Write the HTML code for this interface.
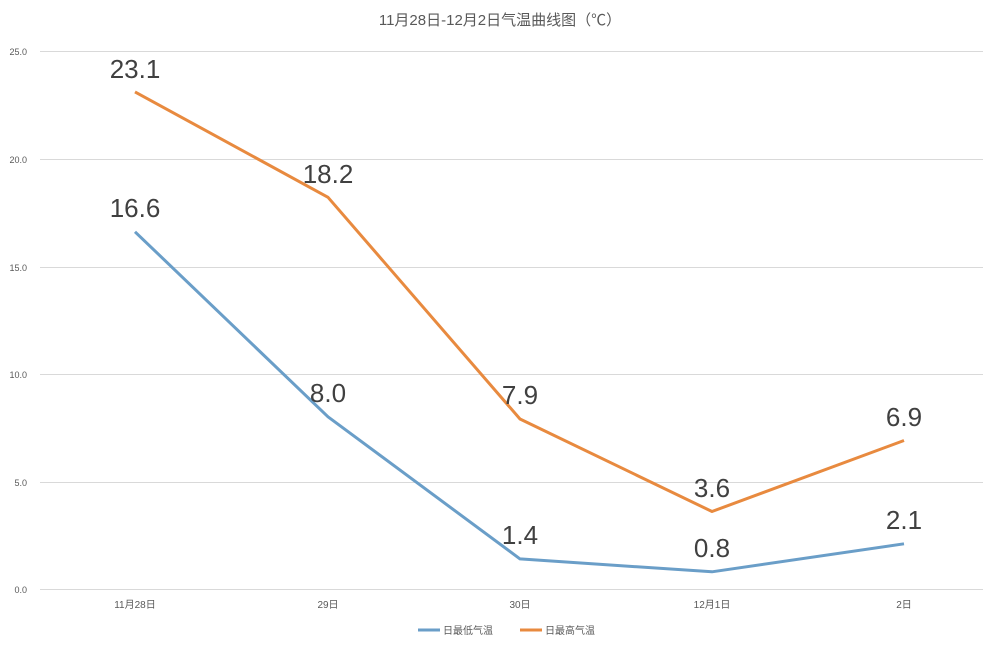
<!DOCTYPE html>
<html><head><meta charset="utf-8"><style>
html,body{margin:0;padding:0;background:#fff;}
svg{display:block;font-family:"Liberation Sans","Noto Sans CJK SC",sans-serif;}
</style></head><body>
<svg width="983" height="649" viewBox="0 0 983 649">
<text x="500" y="25" font-size="15" fill="#595959" text-anchor="middle">11月28日-12月2日气温曲线图（℃）</text>
<g stroke="#d9d9d9" stroke-width="1">
<line x1="40" y1="51.5" x2="983" y2="51.5"/>
<line x1="40" y1="159.5" x2="983" y2="159.5"/>
<line x1="40" y1="267.5" x2="983" y2="267.5"/>
<line x1="40" y1="374.5" x2="983" y2="374.5"/>
<line x1="40" y1="482.5" x2="983" y2="482.5"/>
<line x1="40" y1="589.5" x2="983" y2="589.5"/>
</g>
<g font-size="9" fill="#595959" text-anchor="end">
<text x="27" y="55">25.0</text>
<text x="27" y="163">20.0</text>
<text x="27" y="271">15.0</text>
<text x="27" y="378">10.0</text>
<text x="27" y="486">5.0</text>
<text x="27" y="593">0.0</text>
</g>
<g font-size="10" fill="#595959" text-anchor="middle">
<text x="135" y="608">11月28日</text>
<text x="328" y="608">29日</text>
<text x="520" y="608">30日</text>
<text x="712" y="608">12月1日</text>
<text x="904" y="608">2日</text>
</g>
<polyline fill="none" stroke="#6a9ec8" stroke-width="3" stroke-linejoin="round" points="135,231.8 328,416.8 520,558.9 712,571.8 904,543.8"/>
<polyline fill="none" stroke="#e88a3f" stroke-width="3" stroke-linejoin="round" points="135,91.9 328,197.3 520,419 712,511.5 904,440.5"/>
<g font-size="26" fill="#404040" text-anchor="middle">
<text x="135" y="78">23.1</text>
<text x="328" y="183">18.2</text>
<text x="520" y="404">7.9</text>
<text x="712" y="497">3.6</text>
<text x="904" y="426">6.9</text>
<text x="135" y="217">16.6</text>
<text x="328" y="402">8.0</text>
<text x="520" y="544">1.4</text>
<text x="712" y="557">0.8</text>
<text x="904" y="529">2.1</text>
</g>
<line x1="418" y1="630" x2="440" y2="630" stroke="#6a9ec8" stroke-width="3"/>
<text x="443" y="634" font-size="10" fill="#595959">日最低气温</text>
<line x1="520" y1="630" x2="542" y2="630" stroke="#e88a3f" stroke-width="3"/>
<text x="545" y="634" font-size="10" fill="#595959">日最高气温</text>
</svg>
</body></html>
